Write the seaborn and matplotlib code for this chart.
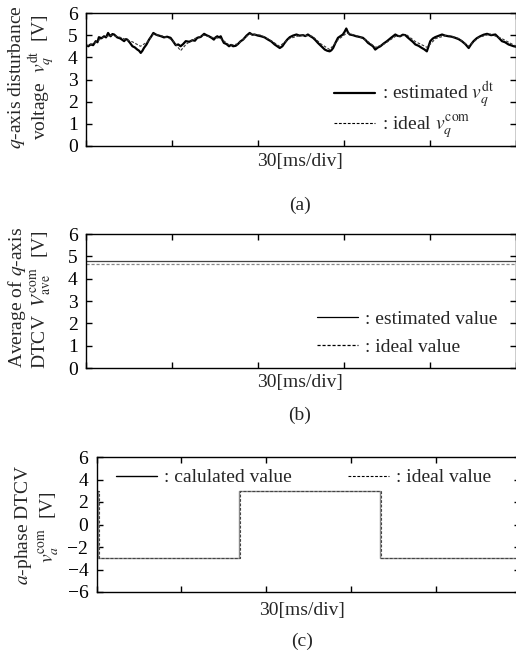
import numpy as np
import pandas as pd
import matplotlib
matplotlib.use("Agg")
import matplotlib.pyplot as plt
import seaborn as sns

# ---- (a) q-axis disturbance voltage [V] vs time [ms]
t_est = [0, 0.8, 1.6, 2.5, 3.4, 4.0, 4.5, 5.4, 6.3, 7.0, 7.7, 8.2, 8.6, 9.2, 9.8,
         10.4, 10.9, 12.0, 13.3, 13.9, 14.4, 15.3, 16.2, 17.0, 17.9, 18.5, 19.1,
         19.7, 20.2, 21.1, 22.0, 22.8, 23.5, 24.2, 24.9, 26.0, 27.2, 28.3, 29.5,
         30.4, 31.3, 32.2, 33.0, 33.9, 34.8, 36.0, 37.1, 38.0, 38.8, 40.0, 41.2,
         42.0, 42.9, 43.8, 44.6, 45.2, 45.8, 46.4, 47.0, 47.5, 48.1, 49.0, 49.9,
         50.6, 51.3, 52.2, 53.0, 53.9, 54.8, 56.0, 57.1, 58.0, 58.8, 60.0, 61.1,
         62.3, 63.5, 64.6, 65.8, 66.7, 67.6, 68.5, 69.3, 70.2, 71.1, 72.2, 73.4,
         74.5, 75.7, 76.5, 77.4, 78.3, 79.2, 80.0, 80.9, 82.1, 83.3, 84.1, 85.0,
         85.6, 86.2, 87.0, 87.9, 88.7, 89.6, 90.2, 90.8, 91.4, 92.0, 93.1, 94.3,
         95.4, 96.6, 97.5, 98.4, 99.2, 100.1, 100.9, 101.8, 102.7, 103.8, 105.0,
         106.4, 107.9, 108.7, 109.6, 110.5, 111.4, 112.2, 113.1, 114.0, 114.9,
         116.0, 117.2, 118.0, 118.9, 119.5, 120.1, 121.0, 121.8, 123.0, 124.2,
         125.3, 126.5, 127.6, 128.8, 130.0, 131.1, 132.3, 133.5, 134.3, 135.2,
         136.3, 137.5, 138.7, 139.9, 141.3, 142.8, 144.0, 145.1, 146.2, 147.4,
         148.3, 149.2, 150.0]
v_est = [4.55, 4.50, 4.58, 4.55, 4.73, 4.68, 4.91, 4.86, 4.95, 4.90, 5.10, 5.00,
         4.95, 5.05, 5.03, 4.96, 4.90, 4.85, 4.73, 4.82, 4.80, 4.66, 4.50, 4.45,
         4.35, 4.30, 4.20, 4.30, 4.42, 4.58, 4.80, 4.95, 5.10, 5.04, 5.00, 4.96,
         4.90, 4.93, 4.88, 4.72, 4.55, 4.58, 4.50, 4.60, 4.73, 4.70, 4.77, 4.75,
         4.88, 4.92, 5.06, 5.00, 4.95, 4.88, 4.80, 4.90, 4.95, 4.90, 4.95, 4.80,
         4.65, 4.60, 4.50, 4.56, 4.50, 4.52, 4.60, 4.72, 4.80, 4.98, 5.10, 5.02,
         5.03, 4.98, 4.95, 4.90, 4.80, 4.72, 4.58, 4.50, 4.42, 4.50, 4.65, 4.80,
         4.91, 4.98, 5.03, 4.98, 5.00, 4.96, 5.03, 4.95, 4.88, 4.78, 4.65, 4.50,
         4.35, 4.30, 4.27, 4.32, 4.42, 4.65, 4.88, 4.95, 5.03, 5.15, 5.30, 5.12,
         5.03, 5.00, 4.95, 4.92, 4.88, 4.78, 4.65, 4.58, 4.50, 4.35, 4.44, 4.50,
         4.62, 4.73, 4.88, 5.03, 4.97, 4.95, 5.02, 5.00, 4.90, 4.80, 4.70, 4.58,
         4.52, 4.42, 4.36, 4.27, 4.50, 4.73, 4.85, 4.91, 4.97, 5.03, 4.98, 4.95,
         4.93, 4.88, 4.82, 4.73, 4.60, 4.42, 4.58, 4.73, 4.86, 4.95, 5.02, 5.06,
         5.00, 5.03, 4.88, 4.73, 4.68, 4.58, 4.54, 4.50, 4.48]
t_ideal = [0, 3, 6, 9, 12, 15, 16.2, 19, 21.5, 23.5, 27, 30, 33, 35, 38, 41, 44,
           47, 50, 53, 57, 61, 64, 67.5, 71, 75, 79, 82, 85, 88, 91, 95, 98, 101,
           104, 108, 112, 115, 119, 122, 126, 130, 133.5, 137, 141, 145, 150]
v_ideal = [4.50, 4.65, 4.90, 5.00, 4.90, 4.75, 4.70, 4.50, 4.70, 5.05, 4.95, 4.80,
           4.30, 4.60, 4.85, 5.00, 4.90, 4.85, 4.55, 4.60, 5.05, 5.00, 4.80, 4.50,
           4.85, 5.00, 4.95, 4.60, 4.35, 4.80, 5.10, 4.95, 4.75, 4.45, 4.60, 4.95,
           5.00, 4.70, 4.45, 4.85, 5.00, 4.85, 4.50, 4.90, 5.05, 4.85, 4.50]

# ---- (b) average of q-axis DTCV [V]
t_ave = [0, 100.5, 150]
v_ave_est = [4.78, 4.80, 4.80]
v_ave_ideal = [4.67, 4.67, 4.67]

# ---- (c) a-phase DTCV [V]
t_calc = [0, 0.5, 50.3, 100.3, 150]
v_calc = [3, -3, 3, -3, -3]
t_ideal_c = [0, 0.8, 50.8, 100.8, 150]
v_ideal_c = [3, -3, 3, -3, -3]

sns.set_style("ticks")
plt.rcParams["font.family"] = ["Liberation Serif", "DejaVu Serif"]
plt.rcParams["mathtext.fontset"] = "stix"
plt.rcParams["axes.linewidth"] = 1.0

FS = 14
W, H = 516, 659
fig = plt.figure(figsize=(W / 100, H / 100), dpi=100)


def make_axes(left, top, right, bottom):
    return fig.add_axes([left / W, 1 - bottom / H, (right - left) / W, (bottom - top) / H])


def style(ax, yticks, ylim):
    ax.set_xlim(0, 150)
    ax.set_ylim(*ylim)
    ax.set_xticks(np.arange(0, 151, 30))
    ax.set_yticks(yticks)
    ax.set_xticklabels([])
    ax.tick_params(direction="in", top=True, right=True, length=4, width=1.0,
                   labelsize=FS, colors="black", pad=6)
    ax.tick_params(axis="x", labelbottom=False)
    for s in ax.spines.values():
        s.set_visible(True)
        s.set_color("black")
    ax.set_xlabel("")
    ax.set_ylabel("")


dash = (0, (2.5, 1.5))
leg_kw = dict(frameon=False, fontsize=FS, handlelength=2.1, handletextpad=0.35,
              borderaxespad=0)

# (a)
ax1 = make_axes(86, 13, 516, 146)
sns.lineplot(x=t_est, y=v_est, ax=ax1, color="black", lw=1.6, sort=False,
             estimator=None, label=r": estimated $v_q^{\mathrm{dt}}$")
sns.lineplot(x=t_ideal, y=v_ideal, ax=ax1, color="#333333", lw=0.8, linestyle=dash,
             sort=False, estimator=None, label=r": ideal $v_q^{\mathrm{com}}$")
style(ax1, range(0, 7), (0, 6))
leg = ax1.legend(loc="lower right", bbox_to_anchor=(0.967, -0.02), labelspacing=0.15,
                 **leg_kw)
for ln in leg.get_lines():
    ln.set_color("black")

# (b)
ax2 = make_axes(86, 234, 516, 368)
sns.lineplot(x=t_ave, y=v_ave_est, ax=ax2, color="#444444", lw=0.9,
             drawstyle="steps-post", estimator=None, label=": estimated value")
sns.lineplot(x=t_ave, y=v_ave_ideal, ax=ax2, color="#888888", lw=0.9, linestyle=dash,
             estimator=None, label=": ideal value")
style(ax2, range(0, 7), (0, 6))
leg = ax2.legend(loc="lower right", bbox_to_anchor=(0.975, 0.035), labelspacing=0.5,
                 **leg_kw)
for ln in leg.get_lines():
    ln.set_color("black")

# (c)
ax3 = make_axes(96.7, 457, 520.2, 592)
sns.lineplot(x=t_calc, y=v_calc, ax=ax3, color="#8a8a8a", lw=1.0,
             drawstyle="steps-post", estimator=None, label=": calulated value")
sns.lineplot(x=t_ideal_c, y=v_ideal_c, ax=ax3, color="#444444", lw=0.8, linestyle=dash,
             drawstyle="steps-post", estimator=None, label=": ideal value")
style(ax3, range(-6, 7, 2), (-6, 6))
leg = ax3.legend(loc="upper left", bbox_to_anchor=(0.028, 0.97), ncol=2,
                 columnspacing=2.9, **leg_kw)
for ln in leg.get_lines():
    ln.set_color("black")

# y-axis titles, two lines each
fig.text(17 / W, 1 - 77 / H, r"$q$-axis disturbance", rotation=90, ha="center",
         va="center", fontsize=FS)
fig.text(42 / W, 1 - 77 / H, r"voltage  $v_q^{\mathrm{dt}}$  [V]", rotation=90,
         ha="center", va="center", fontsize=FS)
fig.text(17 / W, 1 - 297 / H, r"Average of $q$-axis", rotation=90, ha="center",
         va="center", fontsize=FS)
fig.text(42 / W, 1 - 300 / H, r"DTCV  $V_{\mathrm{ave}}^{\mathrm{com}}$  [V]",
         rotation=90, ha="center", va="center", fontsize=FS)
fig.text(24 / W, 1 - 525 / H, r"$a$-phase DTCV", rotation=90, ha="center",
         va="center", fontsize=FS)
fig.text(50 / W, 1 - 527 / H, r"$v_a^{\mathrm{com}}$  [V]", rotation=90,
         ha="center", va="center", fontsize=FS)

# time-scale labels and panel tags
for xc, yl, tag, yt in [(300, 162, "(a)", 205), (300, 383, "(b)", 415),
                        (302, 610, "(c)", 641)]:
    fig.text(xc / W, 1 - yl / H, "30[ms/div]", ha="center", va="center", fontsize=FS)
    fig.text(xc / W, 1 - yt / H, tag, ha="center", va="center", fontsize=FS)

fig.savefig("out.png", dpi=100)
